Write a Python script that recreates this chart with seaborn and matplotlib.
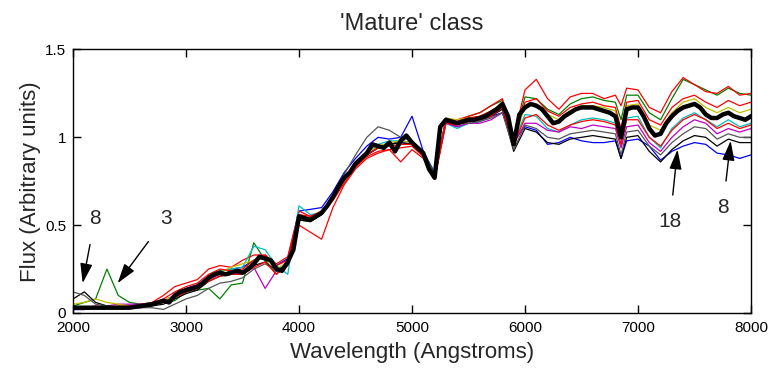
import numpy as np
import pandas as pd
import matplotlib
matplotlib.use("Agg")
import matplotlib.pyplot as plt
import seaborn as sns

# ---------------- data ----------------
# mean spectrum (thick black), 50 A steps
wl_mean = list(range(2000, 8001, 50))
flux_mean = [
    0.03, 0.03, 0.03, 0.03, 0.03, 0.03, 0.03, 0.03, 0.03, 0.03,   # 2000-2450
    0.03, 0.035, 0.04, 0.045, 0.05, 0.06, 0.07, 0.06, 0.10, 0.12,  # 2500-2950
    0.13, 0.14, 0.15, 0.17, 0.20, 0.22, 0.23, 0.22, 0.23, 0.24,   # 3000-3450
    0.23, 0.25, 0.28, 0.32, 0.31, 0.30, 0.25, 0.24, 0.29, 0.36,   # 3500-3950
    0.55, 0.54, 0.53, 0.55, 0.57, 0.61, 0.66, 0.72, 0.77, 0.80,   # 4000-4450
    0.85, 0.88, 0.91, 0.96, 0.95, 0.94, 0.97, 0.92, 0.98, 1.01,   # 4500-4950
    0.97, 0.94, 0.91, 0.82, 0.77, 1.06, 1.10, 1.09, 1.08, 1.09,   # 5000-5450
    1.10, 1.10, 1.11, 1.12, 1.14, 1.16, 1.19, 1.12, 0.96, 1.13,   # 5500-5950
    1.17, 1.19, 1.18, 1.16, 1.12, 1.08, 1.09, 1.12, 1.14, 1.16,   # 6000-6450
    1.17, 1.17, 1.17, 1.16, 1.15, 1.14, 1.12, 1.00, 1.16, 1.17,   # 6500-6950
    1.17, 1.12, 1.05, 1.01, 1.02, 1.08, 1.12, 1.15, 1.17, 1.18,   # 7000-7450
    1.19, 1.17, 1.13, 1.11, 1.11, 1.13, 1.14, 1.12, 1.11, 1.10,   # 7500-7950
    1.12,                                                         # 8000
]

# individual spectra grid
wl_ind = list(range(2000, 6801, 100)) + [6850] + list(range(6900, 8001, 100))

flux_blue = [
    0.02, 0.02, 0.03, 0.03, 0.03, 0.03, 0.04, 0.05, 0.07, 0.10,
    0.14, 0.16, 0.21, 0.24, 0.25, 0.26, 0.30, 0.32, 0.27, 0.31,
    0.58, 0.59, 0.60, 0.69, 0.80, 0.88, 0.95, 1.00, 0.99, 1.00,
    1.12, 0.92, 0.80, 1.09, 1.06, 1.08, 1.09, 1.12, 1.14, 0.98,
    1.06, 1.04, 0.96, 0.97, 1.00, 0.98, 0.97, 0.97, 0.98, 0.88, 0.98,
    0.99, 0.95, 0.87, 0.92, 0.95, 0.97, 0.96, 0.91, 0.90, 0.88, 0.90,
]
flux_green = [
    0.04, 0.06, 0.08, 0.25, 0.10, 0.06, 0.05, 0.05, 0.06, 0.07,
    0.12, 0.13, 0.14, 0.08, 0.16, 0.17, 0.40, 0.30, 0.22, 0.30,
    0.53, 0.52, 0.56, 0.65, 0.76, 0.84, 0.90, 0.94, 0.96, 0.98,
    0.97, 0.92, 0.79, 1.10, 1.09, 1.12, 1.14, 1.18, 1.21, 0.99,
    1.23, 1.22, 1.16, 1.13, 1.19, 1.22, 1.23, 1.21, 1.20, 1.10, 1.24,
    1.24, 1.14, 1.10, 1.22, 1.33, 1.30, 1.27, 1.24, 1.28, 1.25, 1.24,
]
flux_red = [
    0.03, 0.03, 0.04, 0.03, 0.04, 0.04, 0.05, 0.06, 0.10, 0.15,
    0.17, 0.19, 0.25, 0.27, 0.26, 0.30, 0.33, 0.33, 0.28, 0.32,
    0.58, 0.55, 0.57, 0.64, 0.74, 0.83, 0.89, 0.92, 0.93, 0.86,
    0.93, 0.88, 0.76, 1.10, 1.10, 1.12, 1.14, 1.18, 1.22, 1.00,
    1.27, 1.33, 1.22, 1.16, 1.23, 1.25, 1.25, 1.22, 1.24, 1.18, 1.28,
    1.27, 1.17, 1.14, 1.26, 1.34, 1.30, 1.26, 1.25, 1.29, 1.24, 1.25,
]
flux_red2 = [
    0.03, 0.03, 0.03, 0.03, 0.03, 0.04, 0.04, 0.05, 0.08, 0.12,
    0.15, 0.17, 0.22, 0.25, 0.24, 0.25, 0.30, 0.33, 0.27, 0.30,
    0.56, 0.55, 0.58, 0.66, 0.76, 0.84, 0.90, 0.94, 0.95, 0.96,
    0.96, 0.90, 0.77, 1.10, 1.09, 1.11, 1.12, 1.15, 1.19, 0.98,
    1.20, 1.22, 1.15, 1.12, 1.17, 1.19, 1.20, 1.18, 1.17, 1.05, 1.20,
    1.21, 1.10, 1.07, 1.17, 1.22, 1.24, 1.20, 1.17, 1.21, 1.18, 1.20,
]
flux_yellow = [
    0.05, 0.06, 0.08, 0.06, 0.05, 0.04, 0.04, 0.05, 0.07, 0.10,
    0.13, 0.15, 0.20, 0.23, 0.26, 0.28, 0.30, 0.31, 0.25, 0.29,
    0.55, 0.54, 0.57, 0.66, 0.77, 0.85, 0.91, 0.95, 0.97, 0.98,
    0.97, 0.91, 0.78, 1.11, 1.10, 1.11, 1.12, 1.15, 1.19, 0.97,
    1.18, 1.19, 1.13, 1.10, 1.15, 1.18, 1.18, 1.17, 1.15, 1.02, 1.18,
    1.19, 1.07, 1.04, 1.14, 1.20, 1.22, 1.17, 1.14, 1.17, 1.14, 1.16,
]
flux_cyan = [
    0.02, 0.02, 0.03, 0.03, 0.03, 0.03, 0.04, 0.05, 0.07, 0.09,
    0.12, 0.14, 0.19, 0.24, 0.25, 0.26, 0.38, 0.36, 0.27, 0.22,
    0.61, 0.56, 0.57, 0.66, 0.77, 0.84, 0.91, 0.96, 0.98, 0.98,
    0.96, 0.90, 0.77, 1.08, 1.05, 1.08, 1.09, 1.12, 1.17, 0.97,
    1.13, 1.12, 1.05, 1.03, 1.07, 1.10, 1.11, 1.10, 1.08, 0.96, 1.11,
    1.12, 1.00, 0.94, 1.05, 1.11, 1.14, 1.10, 1.06, 1.10, 1.06, 1.08,
]
flux_red3 = [
    0.03, 0.03, 0.03, 0.03, 0.03, 0.03, 0.04, 0.05, 0.06, 0.09,
    0.12, 0.14, 0.18, 0.21, 0.22, 0.22, 0.26, 0.29, 0.22, 0.27,
    0.50, 0.46, 0.42, 0.60, 0.73, 0.82, 0.88, 0.91, 0.93, 0.94,
    0.95, 0.89, 0.76, 1.08, 1.07, 1.09, 1.10, 1.12, 1.17, 0.96,
    1.11, 1.13, 1.07, 1.04, 1.07, 1.09, 1.10, 1.09, 1.07, 0.96, 1.10,
    1.10, 1.00, 0.95, 1.04, 1.10, 1.13, 1.10, 1.05, 1.08, 1.05, 1.07,
]
flux_magenta = [
    0.02, 0.02, 0.03, 0.04, 0.05, 0.05, 0.05, 0.05, 0.06, 0.09,
    0.12, 0.14, 0.19, 0.22, 0.22, 0.23, 0.26, 0.14, 0.24, 0.28,
    0.54, 0.53, 0.56, 0.65, 0.76, 0.84, 0.90, 0.94, 0.96, 0.97,
    0.96, 0.90, 0.77, 1.08, 1.06, 1.08, 1.08, 1.10, 1.14, 0.96,
    1.08, 1.08, 1.04, 1.03, 1.06, 1.05, 1.07, 1.06, 1.05, 0.94, 1.06,
    1.07, 0.97, 0.92, 1.00, 1.06, 1.10, 1.08, 1.02, 1.05, 1.03, 1.05,
]
flux_gray = [
    0.12, 0.10, 0.05, 0.04, 0.03, 0.03, 0.03, 0.03, 0.02, 0.05,
    0.08, 0.10, 0.14, 0.17, 0.18, 0.20, 0.25, 0.28, 0.24, 0.27,
    0.54, 0.54, 0.57, 0.67, 0.79, 0.90, 1.00, 1.06, 1.04, 1.00,
    0.98, 0.91, 0.78, 1.10, 1.08, 1.08, 1.09, 1.11, 1.14, 0.93,
    1.07, 1.05, 1.00, 0.99, 1.02, 1.03, 1.04, 1.03, 1.02, 0.90, 1.03,
    1.04, 0.95, 0.90, 0.97, 1.02, 1.06, 1.05, 0.99, 1.02, 1.00, 1.00,
]
flux_black = [
    0.08, 0.12, 0.06, 0.04, 0.03, 0.03, 0.03, 0.04, 0.05, 0.08,
    0.11, 0.13, 0.18, 0.21, 0.22, 0.22, 0.27, 0.29, 0.24, 0.28,
    0.53, 0.52, 0.56, 0.65, 0.76, 0.84, 0.90, 0.94, 0.96, 0.97,
    0.96, 0.91, 0.78, 1.10, 1.08, 1.09, 1.10, 1.12, 1.16, 0.92,
    1.05, 1.03, 0.97, 0.96, 0.99, 1.00, 1.01, 1.00, 0.99, 0.88, 1.00,
    1.01, 0.92, 0.86, 0.93, 0.98, 1.01, 1.00, 0.95, 0.99, 0.97, 0.97,
]

series_names = ["blue", "green", "red", "cyan", "magenta", "yellow",
                "black", "gray", "red2", "red3"]
series_colors = ["#0000ff", "#008000", "#ff0000", "#00bfbf", "#bf00bf",
                 "#bfbf00", "#000000", "#555555", "#ff0000", "#ff0000"]
series_values = [flux_blue, flux_green, flux_red, flux_cyan, flux_magenta,
                 flux_yellow, flux_black, flux_gray, flux_red2, flux_red3]

title = "'Mature' class"
xlabel = "Wavelength (Angstroms)"
ylabel = "Flux (Arbitrary units)"
x_ticks = [2000, 3000, 4000, 5000, 6000, 7000, 8000]
y_ticks = [0, 0.5, 1, 1.5]
y_ticklabels = ["0", "0.5", "1", "1.5"]

annot_labels = ["8", "3", "18", "8"]
annot_text_xy = [(2195, 0.54), (2820, 0.54), (7283, 0.52), (7752, 0.60)]
annot_tip_xy = [(2085, 0.17), (2395, 0.17), (7350, 0.93), (7820, 0.98)]

# ---------------- plot ----------------
sns.set_theme(style="ticks")
plt.rcParams["font.family"] = ["Liberation Sans", "DejaVu Sans"]

fig = plt.figure(figsize=(7.77, 3.68), dpi=100)
ax = fig.add_axes([0.094, 0.1495, 0.8725, 0.716])

df = pd.concat([
    pd.DataFrame({"wl": wl_ind, "flux": vals, "spec": name})
    for name, vals in zip(series_names, series_values)
], ignore_index=True)

sns.lineplot(data=df, x="wl", y="flux", hue="spec",
             palette=dict(zip(series_names, series_colors)),
             estimator=None, sort=False, linewidth=0.9, legend=False, ax=ax)

sns.lineplot(x=wl_mean, y=flux_mean, color="black", linewidth=3.2,
             estimator=None, sort=False, legend=False, ax=ax)

ax.set_xlim(2000, 8000)
ax.set_ylim(0, 1.5)
ax.set_xticks(x_ticks)
ax.set_xticklabels([str(t) for t in x_ticks])
ax.set_yticks(y_ticks)
ax.set_yticklabels(y_ticklabels)
ax.tick_params(direction="in", length=6, width=1, top=True, right=True,
               labelsize=11, colors="black")
ax.tick_params(axis="x", pad=6)
ax.tick_params(axis="y", pad=5)
for sp in ax.spines.values():
    sp.set_color("black")
    sp.set_linewidth(1.0)

ax.set_title(title, fontsize=17, pad=14)
ax.set_xlabel(xlabel, fontsize=16, labelpad=5)
ax.set_ylabel(ylabel, fontsize=16, labelpad=3)

for lab, txy, pxy in zip(annot_labels, annot_text_xy, annot_tip_xy):
    ax.annotate(lab, xy=pxy, xytext=txy, fontsize=15, ha="center", va="center",
                arrowprops=dict(arrowstyle="-|>,head_length=0.8,head_width=0.25",
                                color="black", lw=1.0, shrinkA=10, shrinkB=0))

fig.savefig("out.png", dpi=100, facecolor="white")
